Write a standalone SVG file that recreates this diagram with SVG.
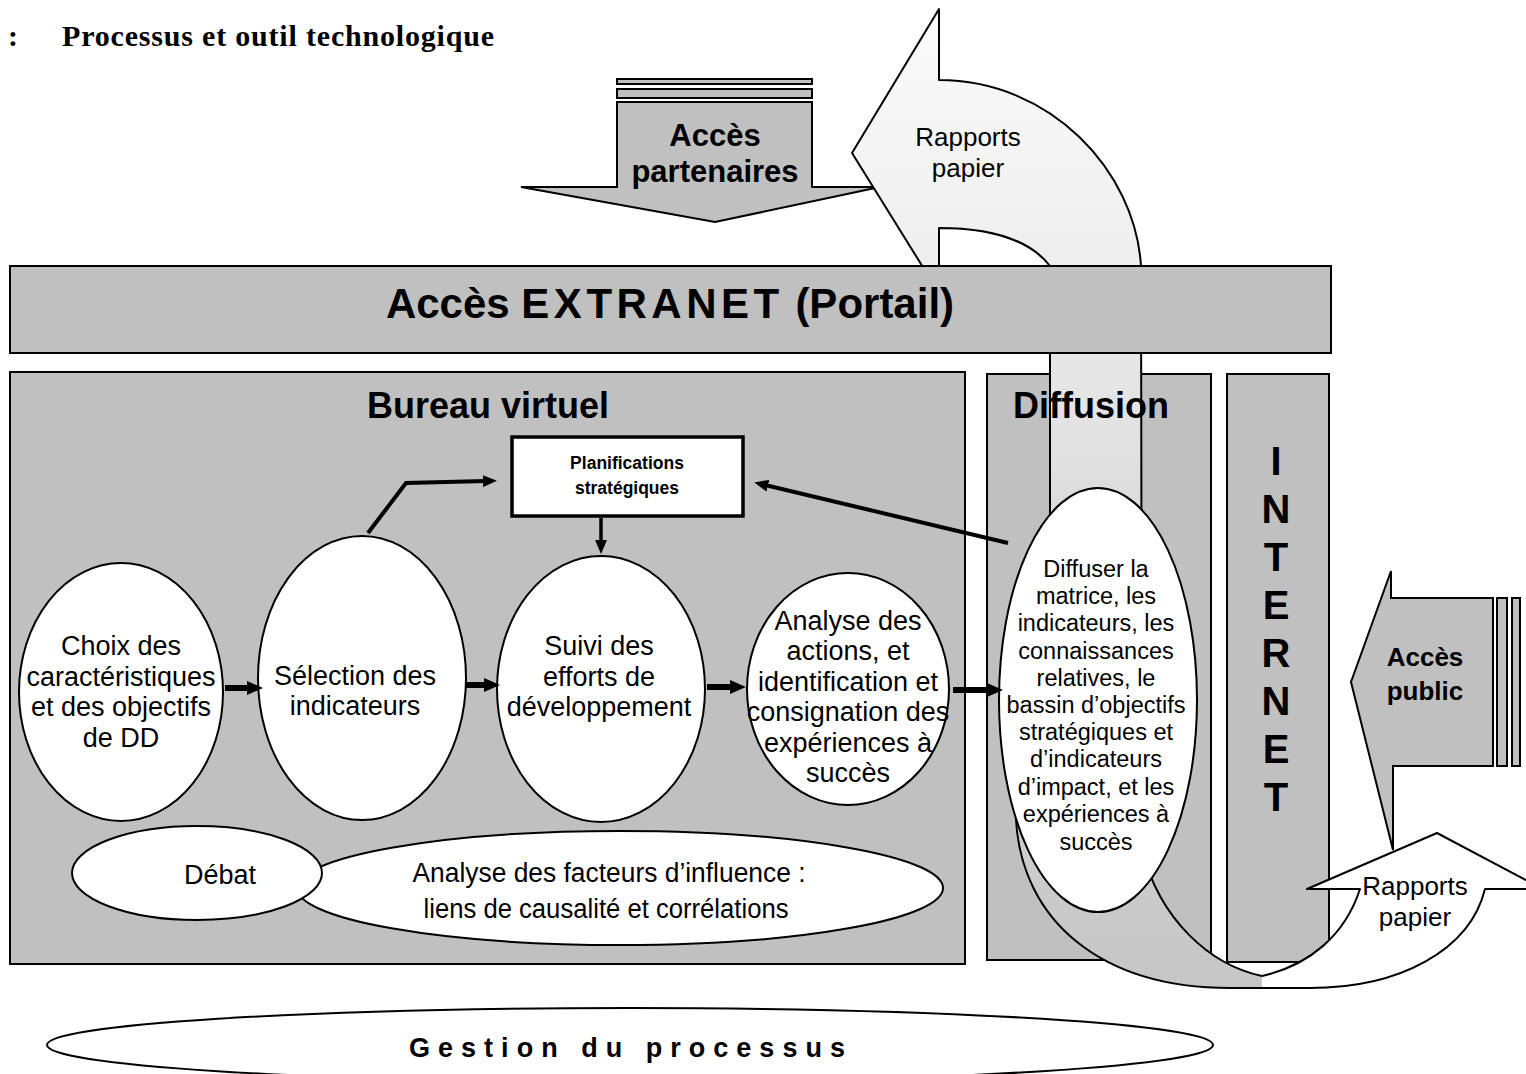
<svg xmlns="http://www.w3.org/2000/svg" width="1526" height="1074" viewBox="0 0 1526 1074">
  <defs>
    <style>
      .box { fill: #c0c0c0; stroke: #000; stroke-width: 2; }
      .node { fill: #fff; stroke: #000; stroke-width: 2; }
      .t { font-family: "Liberation Sans", Arial, sans-serif; fill: #000; text-anchor: middle; }
      .b { font-weight: bold; }
      .lbl { font-size: 27px; }
      .dif { font-size: 23.5px; }
      .flow { fill: none; stroke: #000; stroke-width: 6; }
      .link { fill: none; stroke: #000; stroke-width: 4; }
    </style>
    <marker id="head" viewBox="0 0 16 14" markerWidth="16" markerHeight="14" refX="3" refY="7" orient="auto" markerUnits="userSpaceOnUse">
      <path d="M0,0 L16,7 L0,14 Z" fill="#000"/>
    </marker>
    <marker id="headS" viewBox="0 0 14 12" markerWidth="14" markerHeight="12" refX="3" refY="6" orient="auto" markerUnits="userSpaceOnUse">
      <path d="M0,0 L14,6 L0,12 Z" fill="#000"/>
    </marker>
    <linearGradient id="bandFill" gradientUnits="userSpaceOnUse" x1="0" y1="0" x2="0" y2="990">
      <stop offset="0" stop-color="#fcfcfc"/>
      <stop offset="0.27" stop-color="#eeeeee"/>
      <stop offset="0.5" stop-color="#dddddd"/>
      <stop offset="1" stop-color="#c6c6c6"/>
    </linearGradient>
  </defs>

  <rect width="1526" height="1074" fill="#fff"/>

  <!-- heading -->
  <g id="heading" font-family="'Liberation Serif', 'Times New Roman', serif" font-weight="bold" font-size="30">
    <text x="8" y="46">:</text>
    <text x="62" y="46" textLength="432" lengthAdjust="spacing">Processus et outil technologique</text>
  </g>

  <!-- partner access arrow -->
  <g id="acces-partenaires">
    <rect x="617" y="79" width="195" height="5" class="box"/>
    <rect x="617" y="89" width="195" height="9" class="box"/>
    <path d="M617,102 L812,102 L812,187 L880,187 L715,222 L521,187 L617,187 Z" class="box"/>
    <text class="t b" font-size="31" x="715" y="146">Accès</text>
    <text class="t b" font-size="31" x="715" y="182">partenaires</text>
  </g>

  <!-- columns -->
  <g id="diffusion-col">
    <rect x="987" y="374" width="224" height="586" class="box"/>
  </g>
  <g id="internet">
    <rect x="1227" y="374" width="102" height="588" class="box"/>
    <g class="t b" font-size="40">
      <text x="1276" y="475">I</text>
      <text x="1276" y="523">N</text>
      <text x="1276" y="571">T</text>
      <text x="1276" y="619">E</text>
      <text x="1276" y="667">R</text>
      <text x="1276" y="715">N</text>
      <text x="1276" y="763">E</text>
      <text x="1276" y="811">T</text>
    </g>
  </g>
  <g id="bureau-virtuel">
    <rect x="10" y="372" width="955" height="592" class="box"/>
    <text class="t b" font-size="36" x="488" y="418">Bureau virtuel</text>
  </g>

  <!-- paper reports: curved arrow up to the left, running down through the diffusion column -->
  <g id="rapports-papier-haut">
    <path d="M939,9 L939,80 C1050,80 1135,170 1141,266 L1142,850 C1160,920 1210,965 1262,976 L1300,976 L1300,988 L1230,988 C1100,988 1022,920 1016,820 L1050,600 L1050,266 C1030,240 990,228 939,228 L939,293 L852,153 Z" fill="url(#bandFill)" stroke="#000" stroke-width="2" stroke-linejoin="round"/>
    <text class="t" font-size="26" x="968" y="146">Rapports</text>
    <text class="t" font-size="26" x="968" y="177">papier</text>
  </g>

  <!-- extranet portal bar -->
  <g id="extranet">
    <rect x="10" y="266" width="1321" height="87" class="box"/>
    <text class="t b" font-size="42" x="670" y="318">Accès <tspan letter-spacing="4.5">EXTRANET</tspan> (Portail)</text>
  </g>

  <!-- public access arrow -->
  <g id="acces-public">
    <path d="M1391,571 L1391,598 L1493,598 L1493,766 L1393,766 L1393,850 L1351,682 Z" class="box"/>
    <rect x="1497" y="598" width="10" height="168" class="box"/>
    <rect x="1512" y="598" width="8" height="168" class="box"/>
    <text class="t b" font-size="26" x="1425" y="666">Accès</text>
    <text class="t b" font-size="26" x="1425" y="700">public</text>
  </g>

  <!-- paper reports: arrow up at the bottom right -->
  <g id="rapports-papier-bas">
    <path d="M1437,833 L1543,889 L1485,889 C1470,950 1400,988 1310,988 L1262,988 L1262,976 C1310,965 1345,935 1360,889 L1307,889 Z" fill="#fff" stroke="none"/>
    <path d="M1262,988 L1310,988 C1400,988 1470,950 1485,889 L1543,889 L1437,833 L1307,889 L1360,889 C1345,935 1310,965 1262,976" fill="none" stroke="#000" stroke-width="2" stroke-linejoin="round"/>
    <text class="t" font-size="26" x="1415" y="895">Rapports</text>
    <text class="t" font-size="26" x="1415" y="926">papier</text>
  </g>

  <!-- diffusion -->
  <g id="diffusion">
    <text class="t b" font-size="36" x="1091" y="418">Diffusion</text>
    <ellipse cx="1098" cy="700" rx="99" ry="212" class="node"/>
    <g class="t dif">
      <text x="1096" y="577">Diffuser la</text>
      <text x="1096" y="604">matrice, les</text>
      <text x="1096" y="631">indicateurs, les</text>
      <text x="1096" y="659">connaissances</text>
      <text x="1096" y="686">relatives, le</text>
      <text x="1096" y="713">bassin d’objectifs</text>
      <text x="1096" y="740">stratégiques et</text>
      <text x="1096" y="767">d’indicateurs</text>
      <text x="1096" y="795">d’impact, et les</text>
      <text x="1096" y="822">expériences à</text>
      <text x="1096" y="850">succès</text>
    </g>
  </g>

  <!-- process steps -->
  <g id="planifications">
    <rect x="512" y="437" width="231" height="79" fill="#fff" stroke="#000" stroke-width="3.5"/>
    <text class="t b" font-size="17.5" x="627" y="469">Planifications</text>
    <text class="t b" font-size="17.5" x="627" y="494">stratégiques</text>
  </g>
  <g id="choix">
    <ellipse cx="121" cy="692" rx="102" ry="129" class="node"/>
    <g class="t lbl">
      <text x="121" y="655">Choix des</text>
      <text x="121" y="686">caractéristiques</text>
      <text x="121" y="716">et des objectifs</text>
      <text x="121" y="747">de DD</text>
    </g>
  </g>
  <g id="selection">
    <ellipse cx="362" cy="678" rx="104" ry="142" class="node"/>
    <g class="t lbl">
      <text x="355" y="685">Sélection des</text>
      <text x="355" y="715">indicateurs</text>
    </g>
  </g>
  <g id="suivi">
    <ellipse cx="601" cy="689" rx="104" ry="133" class="node"/>
    <g class="t lbl">
      <text x="599" y="655">Suivi des</text>
      <text x="599" y="686">efforts de</text>
      <text x="599" y="716">développement</text>
    </g>
  </g>
  <g id="analyse">
    <ellipse cx="848" cy="689" rx="101" ry="116" class="node"/>
    <g class="t lbl">
      <text x="848" y="630">Analyse des</text>
      <text x="848" y="660">actions, et</text>
      <text x="848" y="691">identification et</text>
      <text x="848" y="721">consignation des</text>
      <text x="848" y="752">expériences à</text>
      <text x="848" y="782">succès</text>
    </g>
  </g>
  <g id="facteurs">
    <ellipse cx="620" cy="888" rx="323" ry="57" class="node"/>
    <text class="t" font-size="27" x="609" y="882" textLength="393" lengthAdjust="spacingAndGlyphs">Analyse des facteurs d’influence :</text>
    <text class="t" font-size="27" x="606" y="918" textLength="365" lengthAdjust="spacingAndGlyphs">liens de causalité et corrélations</text>
  </g>
  <g id="debat">
    <ellipse cx="197" cy="873" rx="125" ry="47" class="node"/>
    <text class="t lbl" x="220" y="884">Débat</text>
  </g>

  <!-- connectors -->
  <g id="connectors">
    <line x1="225" y1="688" x2="250" y2="688" class="flow" marker-end="url(#head)"/>
    <line x1="466" y1="685" x2="487" y2="685" class="flow" marker-end="url(#head)"/>
    <line x1="707" y1="687" x2="733" y2="687" class="flow" marker-end="url(#head)"/>
    <line x1="953" y1="690" x2="990" y2="690" class="flow" marker-end="url(#head)"/>
    <polyline points="368,533 406,483 486,481" class="link" marker-end="url(#headS)"/>
    <line x1="601" y1="518" x2="601" y2="543" stroke="#000" stroke-width="3.5" marker-end="url(#headS)"/>
    <line x1="1008" y1="543" x2="765" y2="485" class="link" marker-end="url(#headS)"/>
  </g>

  <!-- process management -->
  <g id="gestion">
    <ellipse cx="630" cy="1045" rx="583" ry="37" class="node"/>
    <text class="t b" font-size="27" x="627" y="1057" textLength="436" lengthAdjust="spacing">Gestion du processus</text>
  </g>
</svg>
